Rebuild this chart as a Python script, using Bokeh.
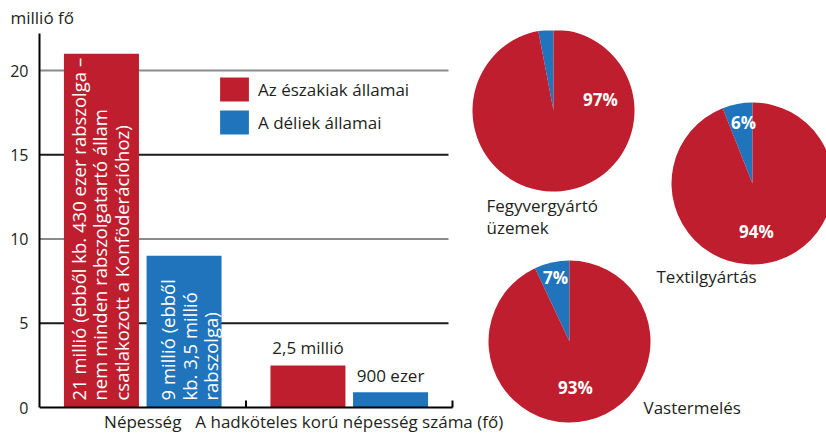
import math
from bokeh.plotting import figure
from bokeh.models import Range1d, FixedTicker, Legend, LegendItem
from bokeh.core.properties import value
from bokeh.embed import file_html
from bokeh.resources import INLINE

# ---------------- data ----------------
groups = ["Népesség", "A hadköteles korú népesség száma (fő)"]
series_names = ["Az északiak államai", "A déliek államai"]
north_vals = [21, 2.5]
south_vals = [9, 0.9]
north_inside = ["21 millió (ebből kb. 430 ezer rabszolga –\nnem minden rabszolgatartó állam\ncsatlakozott a Konföderációhoz)", ""]
south_inside = ["9 millió (ebből\nkb. 3,5 millió\nrabszolga)", ""]
north_above = ["", "2,5 millió"]
south_above = ["", "900 ezer"]
y_ticks = [0, 5, 10, 15, 20]
y_unit = "millió fő"

pie_titles = ["Fegyvergyártó\nüzemek", "Textilgyártás", "Vastermelés"]
pie_north = [97, 94, 93]
pie_south = [3, 6, 7]

# ---------------- style / layout ----------------
RED = "#BE1E2D"
BLUE = "#1F74BC"
INK = "#231F20"
FNAME = "Open Sans"
FONT = value(FNAME)
FS = "17px"
FS_BAR = "18.5px"

W, H = 826, 433
LEFT = 39           # y axis position
TOP = 30            # top of plotting frame
PX = 16.85          # pixels per million
ZERO = 407          # canvas y of value 0
GROUP = 206.5       # pixels per category group
FW = W - LEFT

p = figure(width=W, height=H, output_backend="svg", toolbar_location=None,
           x_range=Range1d(0, FW / GROUP),
           y_range=Range1d(-(H - ZERO) / PX, (ZERO - TOP) / PX),
           x_axis_location=None, min_border_left=LEFT, min_border_right=0,
           min_border_top=TOP, min_border_bottom=0, tools="")
p.outline_line_color = None
p.grid.visible = False
p.background_fill_color = "white"
p.border_fill_color = "white"
# layout range for the pie panel (canvas-like coordinates)
p.extra_x_ranges = {"px": Range1d(LEFT, W)}
p.extra_y_ranges = {"px": Range1d(H, TOP)}

# unit title
p.title.text = y_unit
p.title.align = "left"
p.title.offset = -29
p.title.standoff = 3
p.title.text_font = FNAME
p.title.text_font_style = "normal"
p.title.text_font_size = FS
p.title.text_color = INK

# y axis
ax = p.yaxis[0]
ax.ticker = FixedTicker(ticks=y_ticks)
ax.bounds = (0, (ZERO - 33) / PX)
ax.axis_line_width = 2
ax.axis_line_color = "black"
ax.major_tick_line_color = None
ax.minor_tick_line_color = None
ax.major_label_standoff = 5
ax.major_label_text_font = FNAME
ax.major_label_text_font_size = "16px"
ax.major_label_text_color = INK

# gridlines
grid_end = (448 - LEFT) / GROUP
gt = [t for t in y_ticks if t > 0]
major = [t for t in gt if t % 10 == 0]
minor = [t for t in gt if t % 10 != 0]
p.segment(x0=[0] * len(major), x1=[grid_end] * len(major), y0=major, y1=major,
          line_color="#8a8a8a", line_width=2)
p.segment(x0=[0] * len(minor), x1=[grid_end] * len(minor), y0=minor, y1=minor,
          line_color="#1a1a1a", line_width=2)

# bars
n = len(groups)
xn = [i + 0.30 for i in range(n)]
xs = [i + 0.70 for i in range(n)]
bw = 75 / GROUP
rn = p.vbar(x=xn, top=north_vals, width=bw, bottom=0, fill_color=RED, line_color=None)
rs = p.vbar(x=xs, top=south_vals, width=bw, bottom=0, fill_color=BLUE, line_color=None)

# x axis line and ticks
p.segment(x0=[0], x1=[n], y0=[0], y1=[0], line_color="black", line_width=2)
tk = list(range(1, n + 1))
p.segment(x0=tk, x1=tk, y0=[0] * n, y1=[7 / PX] * n, line_color="black", line_width=2)

# category labels
p.text(x=[i + 0.5 for i in range(n)], y=[-(432 - ZERO) / PX] * n, text=groups,
       text_align="center", text_baseline="bottom", text_font=FONT,
       text_font_size=FS, text_color=INK)

# labels inside bars (rotated)
p.text(x=xn, y=[7 / PX] * n, text=north_inside, angle=math.pi / 2,
       text_align="left", text_baseline="middle", text_font=FONT, text_font_size=FS_BAR,
       text_color="white", text_line_height=0.85, x_offset=-1.5)
p.text(x=xs, y=[7 / PX] * n, text=south_inside, angle=math.pi / 2,
       text_align="left", text_baseline="middle", text_font=FONT, text_font_size=FS_BAR,
       text_color="white", text_line_height=0.85, x_offset=5)
# labels above bars
p.text(x=xn, y=[v + 6 / PX for v in north_vals], text=north_above, text_align="center",
       text_baseline="bottom", text_font=FONT, text_font_size=FS, text_color=INK)
p.text(x=xs, y=[v + 5 / PX for v in south_vals], text=south_above, text_align="center",
       text_baseline="bottom", text_font=FONT, text_font_size=FS, text_color=INK)

# legend
legend = Legend(items=[LegendItem(label=series_names[0], renderers=[rn]),
                       LegendItem(label=series_names[1], renderers=[rs])],
                location=(177, 296), padding=0, margin=0, spacing=3,
                glyph_width=36, glyph_height=30, label_standoff=6,
                border_line_color=None, background_fill_alpha=0,
                label_text_font=FNAME, label_text_font_size=FS, label_text_color=INK)
p.add_layout(legend)

# pies (layout in canvas-like coordinates)
centers = [(553, 110), (752, 183), (569, 341)]
north_lab = [(600, 99), (756, 231), (575, 387)]
south_lab = [None, (743, 122), (555, 277)]
title_pos = [(486, 216), (656, 276), (643, 407)]
R = 81
for k in range(len(pie_titles)):
    cx, cy = centers[k]
    a0 = math.pi / 2
    a1 = a0 + 2 * math.pi * pie_south[k] / 100
    a2 = a0 + 2 * math.pi
    p.wedge(x=[cx], y=[cy], radius=R, radius_units="screen", start_angle=[a0], end_angle=[a1],
            fill_color=BLUE, line_color=None, x_range_name="px", y_range_name="px")
    p.wedge(x=[cx], y=[cy], radius=R, radius_units="screen", start_angle=[a1], end_angle=[a2],
            fill_color=RED, line_color=None, x_range_name="px", y_range_name="px")
    lx, ly, lt = [north_lab[k][0]], [north_lab[k][1]], [f"{pie_north[k]}%"]
    if south_lab[k] is not None:
        lx.append(south_lab[k][0])
        ly.append(south_lab[k][1])
        lt.append(f"{pie_south[k]}%")
    p.text(x=lx, y=ly, text=lt, text_align="center", text_baseline="middle",
           text_font=FONT, text_font_size=FS, text_font_style="bold", text_color="white",
           x_range_name="px", y_range_name="px")
    p.text(x=[title_pos[k][0]], y=[title_pos[k][1]], text=[pie_titles[k]], text_align="left",
           text_baseline="middle", text_font=FONT, text_font_size=FS, text_color=INK,
           text_line_height=0.95, x_range_name="px", y_range_name="px")

open("out.html", "w").write(file_html(p, INLINE))
